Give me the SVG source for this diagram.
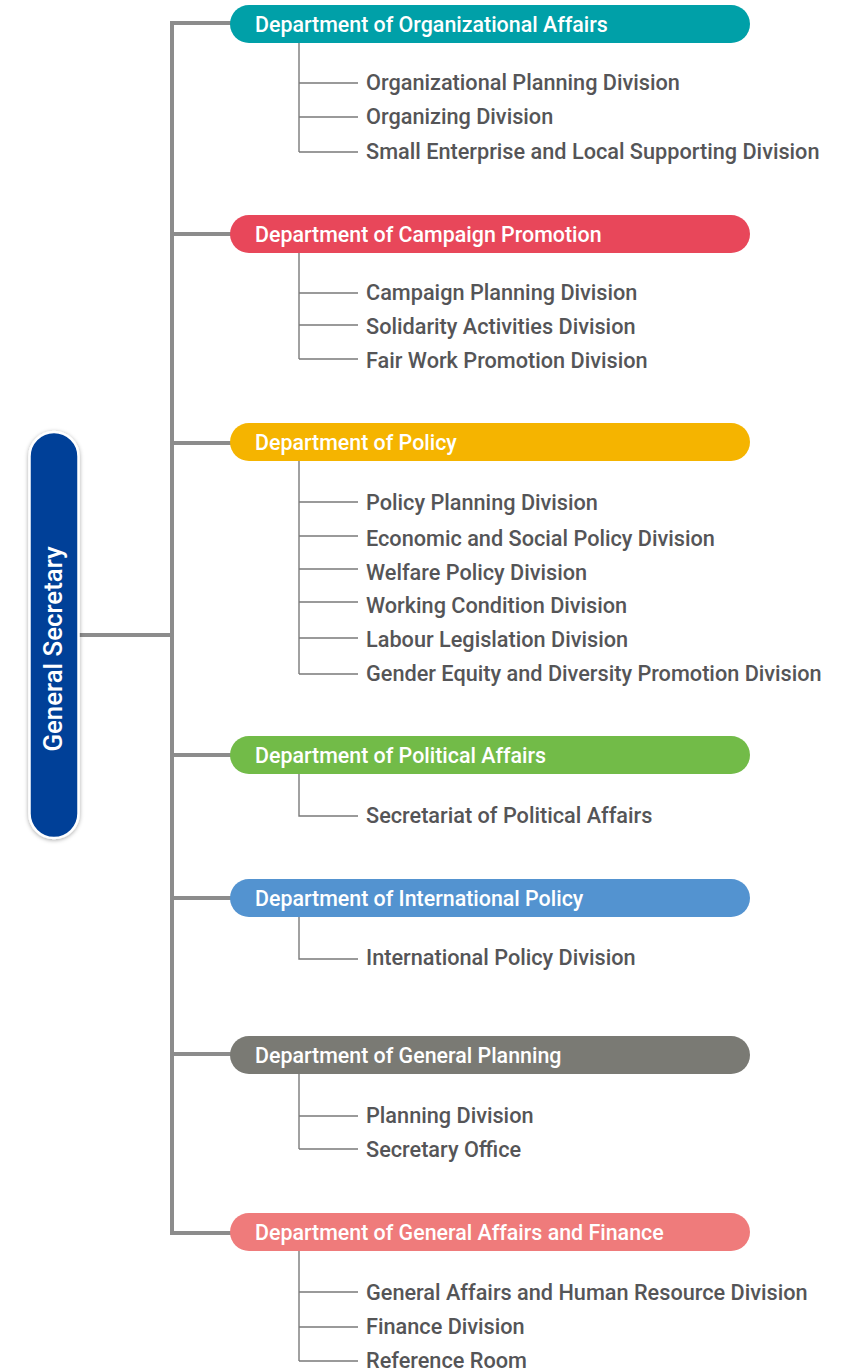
<svg xmlns="http://www.w3.org/2000/svg" width="841" height="1371" viewBox="0 0 841 1371">
  <style>
    .trunk { fill: none; stroke: #8c8c8c; stroke-width: 4; }
    .sub { fill: none; stroke: #7a7a7a; stroke-width: 1.4; }
    .dept text { font-family: Roboto, "Liberation Sans", sans-serif; font-size: 21.4px; font-weight: 500; fill: #ffffff; }
    .div { font-family: Roboto, "Liberation Sans", sans-serif; font-size: 21.7px; font-weight: 500; fill: #555557; }
    .gs-label { font-family: Roboto, "Liberation Sans", sans-serif; font-size: 25.8px; font-weight: 500; fill: #ffffff; }
  </style>
  <defs>
    <filter id="soft-shadow" x="-40%" y="-10%" width="180%" height="120%">
      <feDropShadow dx="0" dy="1" stdDeviation="2" flood-color="#000000" flood-opacity="0.35"/>
    </filter>
  </defs>
  <rect width="841" height="1371" fill="#ffffff"/>

  <!-- connectors -->
  <g id="connectors">
    <path class="trunk" d="M231,23 H172 V1233 H231"/>
    <path class="trunk" d="M79,635 H172"/>
    <path class="trunk" d="M172,234 H231 M172,443 H231 M172,755 H231 M172,898 H231 M172,1054 H231"/>
    <!-- Organizational Affairs -->
    <path class="sub" d="M299,43 V152 M299,83 H358 M299,117 H358 M299,152 H358"/>
    <!-- Campaign Promotion -->
    <path class="sub" d="M299,253 V359 M299,293 H358 M299,325 H358 M299,359 H358"/>
    <!-- Policy -->
    <path class="sub" d="M299,461 V674 M299,502 H358 M299,536 H358 M299,569 H358 M299,602 H358 M299,638 H358 M299,674 H358"/>
    <!-- Political Affairs -->
    <path class="sub" d="M299,774 V816 H358"/>
    <!-- International Policy -->
    <path class="sub" d="M299,917 V959 H358"/>
    <!-- General Planning -->
    <path class="sub" d="M299,1074 V1149 M299,1116 H358 M299,1149 H358"/>
    <!-- General Affairs and Finance -->
    <path class="sub" d="M299,1251 V1361 M299,1292 H358 M299,1327 H358 M299,1361 H358"/>
  </g>

  <!-- General Secretary -->
  <g id="general-secretary">
    <rect x="29.5" y="432" width="49" height="406" rx="24.5" fill="#004098" stroke="#ffffff" stroke-width="2.5" filter="url(#soft-shadow)"/>
    <text class="gs-label" transform="translate(62,649) rotate(-90)" text-anchor="middle">General Secretary</text>
  </g>

  <!-- departments -->
  <g id="dept-organizational" class="dept">
    <rect x="230" y="5" width="520" height="38" rx="19" fill="#00a0a8"/>
    <text x="255" y="31.5">Department of Organizational Affairs</text>
  </g>
  <g id="dept-campaign" class="dept">
    <rect x="230" y="215" width="520" height="38" rx="19" fill="#e8475a"/>
    <text x="255" y="241.5">Department of Campaign Promotion</text>
  </g>
  <g id="dept-policy" class="dept">
    <rect x="230" y="423" width="520" height="38" rx="19" fill="#f5b400"/>
    <text x="255" y="449.5">Department of Policy</text>
  </g>
  <g id="dept-political" class="dept">
    <rect x="230" y="736" width="520" height="38" rx="19" fill="#72bb48"/>
    <text x="255" y="762.5">Department of Political Affairs</text>
  </g>
  <g id="dept-international" class="dept">
    <rect x="230" y="879" width="520" height="38" rx="19" fill="#5393d0"/>
    <text x="255" y="905.5">Department of International Policy</text>
  </g>
  <g id="dept-general-planning" class="dept">
    <rect x="230" y="1036" width="520" height="38" rx="19" fill="#7a7a74"/>
    <text x="255" y="1062.5">Department of General Planning</text>
  </g>
  <g id="dept-general-affairs" class="dept">
    <rect x="230" y="1213" width="520" height="38" rx="19" fill="#ef7b7b"/>
    <text x="255" y="1239.5">Department of General Affairs and Finance</text>
  </g>

  <!-- divisions -->
  <g id="divisions-organizational">
    <text class="div" x="366" y="90">Organizational Planning Division</text>
    <text class="div" x="366" y="124">Organizing Division</text>
    <text class="div" x="366" y="159">Small Enterprise and Local Supporting Division</text>
  </g>
  <g id="divisions-campaign">
    <text class="div" x="366" y="300">Campaign Planning Division</text>
    <text class="div" x="366" y="334">Solidarity Activities Division</text>
    <text class="div" x="366" y="368">Fair Work Promotion Division</text>
  </g>
  <g id="divisions-policy">
    <text class="div" x="366" y="510">Policy Planning Division</text>
    <text class="div" x="366" y="546">Economic and Social Policy Division</text>
    <text class="div" x="366" y="580">Welfare Policy Division</text>
    <text class="div" x="366" y="613">Working Condition Division</text>
    <text class="div" x="366" y="647">Labour Legislation Division</text>
    <text class="div" x="366" y="681">Gender Equity and Diversity Promotion Division</text>
  </g>
  <g id="divisions-political">
    <text class="div" x="366" y="823">Secretariat of Political Affairs</text>
  </g>
  <g id="divisions-international">
    <text class="div" x="366" y="965">International Policy Division</text>
  </g>
  <g id="divisions-general-planning">
    <text class="div" x="366" y="1123">Planning Division</text>
    <text class="div" x="366" y="1157">Secretary Office</text>
  </g>
  <g id="divisions-general-affairs">
    <text class="div" x="366" y="1300">General Affairs and Human Resource Division</text>
    <text class="div" x="366" y="1334">Finance Division</text>
    <text class="div" x="366" y="1368">Reference Room</text>
  </g>
</svg>
